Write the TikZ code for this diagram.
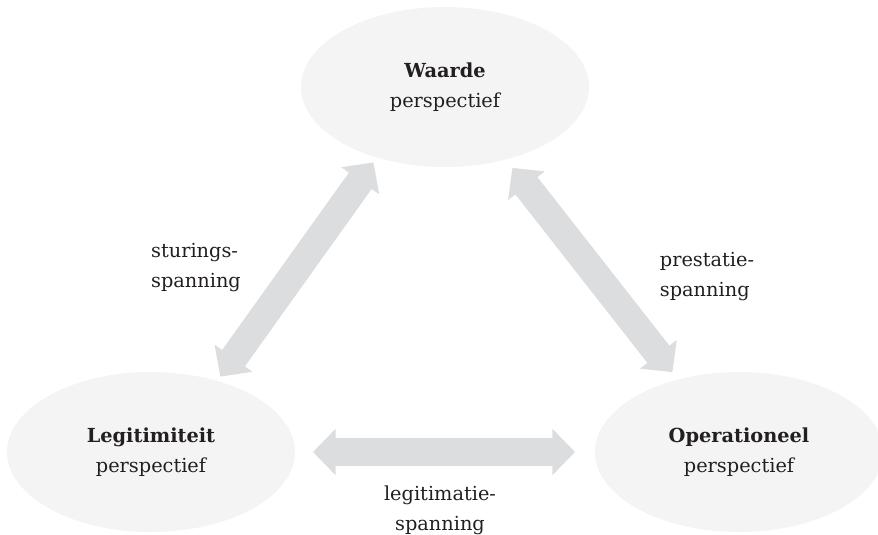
\documentclass[tikz,border=0pt]{standalone}
\usepackage{fontspec}
\setmainfont{DejaVu Serif}
\usetikzlibrary{shapes.geometric,arrows.meta}
\definecolor{ovalgrey}{HTML}{F4F4F4}
\definecolor{arrowgrey}{HTML}{DCDDDF}
\definecolor{textblack}{HTML}{231F20}
\tikzset{
    perspectief/.style={ellipse, fill=ovalgrey, minimum width=216pt, minimum height=120pt,
        inner sep=0pt, outer sep=0pt, align=center, text=textblack, font=\fontsize{14.5}{22.5}\selectfont},
    spanpijl/.style={draw=arrowgrey, line width=21pt,
        {Triangle[width=34pt,length=17pt]}-{Triangle[width=34pt,length=17pt]}},
    spanlabel/.style={align=left, text=textblack, inner sep=0pt, font=\fontsize{14.5}{22.5}\selectfont}
}
\begin{document}
\begin{tikzpicture}[x=0.75pt,y=-0.75pt]
    \useasboundingbox (0,0) rectangle (878,535);
    % de drie perspectieven
    \node[perspectief] (waarde) at (445,87) {\textbf{Waarde}\\perspectief};
    \node[perspectief] (legit) at (151,452) {\textbf{Legitimiteit}\\perspectief};
    \node[perspectief] (oper) at (739,452) {\textbf{Operationeel}\\perspectief};
    % spanningen
    \draw[spanpijl, shorten <=4pt, shorten >=4.5pt] (legit.47) -- (waarde.226);
    \draw[spanpijl, shorten <=8pt, shorten >=7pt] (waarde.310) -- (oper.130);
    \draw[spanpijl, shorten <=13.5pt, shorten >=15pt] (legit.east) -- (oper.west);
    \node[spanlabel] (sturing) at (196,268) {sturings-\\spanning};
    \node[spanlabel] (prestatie) at (707,277) {prestatie-\\spanning};
    \node[spanlabel, align=center] (legitimatie) at (440,510) {legitimatie-\\spanning};
\end{tikzpicture}
\end{document}
